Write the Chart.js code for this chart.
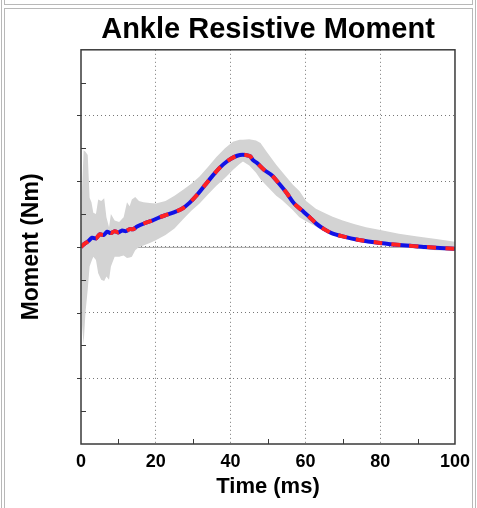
<!DOCTYPE html>
<html>
<head>
<meta charset="utf-8">
<title>Ankle Resistive Moment</title>
<script src="https://cdn.jsdelivr.net/npm/chart.js@4/dist/chart.umd.min.js"></script>
<style>
  html, body { margin: 0; padding: 0; background: #fff; }
  body { width: 477px; height: 508px; position: relative; overflow: hidden; }
  #chartCanvas { position: absolute; left: 0; top: 0; z-index: 1; }
  .frame { position: absolute; border: 1px solid #b8b8b8; z-index: 2; pointer-events: none; }
</style>
</head>
<body>
<div class="frame" style="left:1px; top:-20px; width:473px; height:560px;"></div>
<div class="frame" style="left:4px; top:-20px; width:467px; height:23px;"></div>
<div class="frame" style="left:4px; top:8px; width:467px; height:540px;"></div>
<canvas id="chartCanvas" width="477" height="508"></canvas>
<script>
// Data
const bandTime  = [0, 0.3, 0.7, 1.2, 1.8, 2.3, 2.8, 3.3, 4.0, 4.6, 5.4, 6.2, 6.8, 7.5, 8.0, 9.0, 10.2, 11.4, 12.3, 13.0, 13.6, 14.5, 15.5, 16.7, 18.4, 20, 22.6, 25, 27.3, 29.5, 31.7, 34, 36.2, 38.5, 40.6, 42.4, 43.3, 45, 46.8, 48, 49.5, 52.2, 53.8, 56.6, 58.4, 60.2, 62.8, 65, 67.3, 70, 73, 76.2, 79.7, 85, 90, 95, 100]
const bandUpper = [0.1, 0.9, 1.47, 1.45, 1.4, 0.75, 0.68, 0.52, 0.5, 0.72, 0.7, 0.74, 0.45, 0.3, 0.5, 0.4, 0.38, 0.45, 0.68, 0.62, 0.72, 0.76, 0.7, 0.68, 0.67, 0.66, 0.7, 0.78, 0.87, 0.96, 1.07, 1.22, 1.37, 1.5, 1.6, 1.63, 1.63, 1.64, 1.62, 1.58, 1.46, 1.25, 1.14, 0.95, 0.85, 0.7, 0.58, 0.52, 0.46, 0.4, 0.35, 0.3, 0.26, 0.2, 0.16, 0.12, 0.08]
const bandLower = [-0.3, -1.2, -1.48, -1.0, -0.65, -0.3, -0.22, -0.15, -0.2, -0.4, -0.5, -0.52, -0.45, -0.5, -0.3, -0.15, -0.15, -0.13, -0.17, -0.16, -0.15, -0.05, 0.0, 0.02, 0.06, 0.1, 0.18, 0.28, 0.42, 0.55, 0.66, 0.8, 0.93, 1.05, 1.17, 1.26, 1.3, 1.24, 1.13, 1.03, 0.94, 0.78, 0.71, 0.56, 0.45, 0.39, 0.31, 0.24, 0.18, 0.13, 0.09, 0.06, 0.04, 0.0, -0.03, -0.05, -0.06]

const meanTime   = [0, 1, 2, 3, 4, 5, 6, 7, 8, 9, 10, 11, 12, 13, 14, 15, 17, 19, 21, 23, 25, 27, 29, 31, 33, 35, 37, 39, 41, 42.5, 44, 45.2, 46, 47, 49, 51, 53, 55, 57, 59, 61, 63, 65, 67, 70, 74, 80, 86, 92, 100]
const meanMoment = [0, 0.05, 0.09, 0.14, 0.13, 0.19, 0.18, 0.23, 0.21, 0.24, 0.22, 0.25, 0.24, 0.27, 0.27, 0.31, 0.36, 0.4, 0.45, 0.49, 0.53, 0.58, 0.67, 0.79, 0.93, 1.07, 1.2, 1.3, 1.37, 1.4, 1.4, 1.38, 1.32, 1.28, 1.17, 1.09, 0.96, 0.82, 0.66, 0.56, 0.46, 0.35, 0.27, 0.21, 0.16, 0.11, 0.06, 0.025, 0.0, -0.03]

const xMinorTicks = [10, 30, 50, 70, 90]
const yMajorTicks = [-2, -1, 0, 1, 2]
const yMinorTicks = [-2.5, -1.5, -0.5, 0.5, 1.5, 2.5]

const FONT = "'Liberation Sans', Arial, sans-serif"

function toPoints(xs, ys) {
  return xs.map((x, i) => ({ x: x, y: ys[i] }))
}

// zero line under the band, frame + small ticks on top
const axisDecor = {
  id: "axisDecor",
  beforeDatasetsDraw(chart) {
    const { ctx, chartArea: a, scales: { y } } = chart
    const y0 = y.getPixelForValue(0)
    ctx.save()
    ctx.strokeStyle = "#a6a6a6"
    ctx.lineWidth = 1
    ctx.beginPath()
    ctx.moveTo(a.left, y0 + 0.5)
    ctx.lineTo(a.right, y0 + 0.5)
    ctx.stroke()
    ctx.restore()
  },
  afterDatasetsDraw(chart) {
    const { ctx, chartArea: a, scales: { x, y } } = chart
    ctx.save()
    ctx.strokeStyle = "#3a3a3a"
    ctx.lineWidth = 1.5
    ctx.strokeRect(a.left, a.top, a.right - a.left, a.bottom - a.top)
    ctx.lineWidth = 1
    ctx.beginPath()
    xMinorTicks.forEach(v => {
      const px = Math.round(x.getPixelForValue(v)) + 0.5
      ctx.moveTo(px, a.bottom)
      ctx.lineTo(px, a.bottom - 5)
    })
    yMinorTicks.forEach(v => {
      const py = Math.round(y.getPixelForValue(v)) + 0.5
      ctx.moveTo(a.left, py)
      ctx.lineTo(a.left + 5, py)
    })
    yMajorTicks.forEach(v => {
      const py = Math.round(y.getPixelForValue(v)) + 0.5
      ctx.moveTo(a.left - 4, py)
      ctx.lineTo(a.left, py)
    })
    ctx.stroke()
    ctx.restore()
  }
}

const gridColor = (lo, hi) => c => (c.tick.value === lo || c.tick.value === hi) ? "rgba(0,0,0,0)" : "#777"

new Chart(document.getElementById("chartCanvas"), {
  type: "line",
  data: {
    datasets: [
      { data: toPoints(bandTime, bandUpper), fill: "+1", backgroundColor: "#d3d3d3", borderWidth: 0, pointRadius: 0, tension: 0, order: 3 },
      { data: toPoints(bandTime, bandLower), fill: false, borderWidth: 0, pointRadius: 0, tension: 0, order: 3 },
      { data: toPoints(meanTime, meanMoment), borderColor: "#1212e6", borderWidth: 4, pointRadius: 0, tension: 0.3, fill: false, order: 1 },
      { data: toPoints(meanTime, meanMoment), borderColor: "#ff2222", borderWidth: 4, borderDash: [9, 9], pointRadius: 0, tension: 0.3, fill: false, order: 0 }
    ]
  },
  options: {
    responsive: false,
    animation: false,
    layout: { padding: { left: 0, right: 21, top: 0, bottom: 0 } },
    plugins: {
      legend: { display: false },
      tooltip: { enabled: false },
      title: {
        display: true,
        text: "Ankle Resistive Moment",
        fullSize: false,
        color: "#000",
        font: { family: FONT, size: 29, weight: "bold" },
        padding: { top: 13, bottom: 2 }
      }
    },
    scales: {
      x: {
        type: "linear",
        min: 0,
        max: 100,
        afterFit: s => { s.height = 64 },
        ticks: { stepSize: 20, color: "#000", padding: 7, font: { family: FONT, size: 18, weight: "bold" } },
        grid: { color: gridColor(0, 100), drawTicks: false, lineWidth: 1 },
        border: { display: false, dash: [1, 3] },
        title: { display: true, text: "Time (ms)", color: "#000", font: { family: FONT, size: 22, weight: "bold" }, padding: { top: 0, bottom: 8 } }
      },
      y: {
        type: "linear",
        min: -3,
        max: 3,
        afterFit: s => { s.width = 81 },
        ticks: { stepSize: 1, display: false },
        grid: { color: gridColor(-3, 3), drawTicks: false, lineWidth: 1 },
        border: { display: false, dash: [1, 3] },
        title: { display: true, text: "Moment (Nm)", color: "#000", font: { family: FONT, size: 23, weight: "bold" }, padding: { top: 18, bottom: 0 } }
      }
    }
  },
  plugins: [axisDecor]
})
</script>
</body>
</html>
